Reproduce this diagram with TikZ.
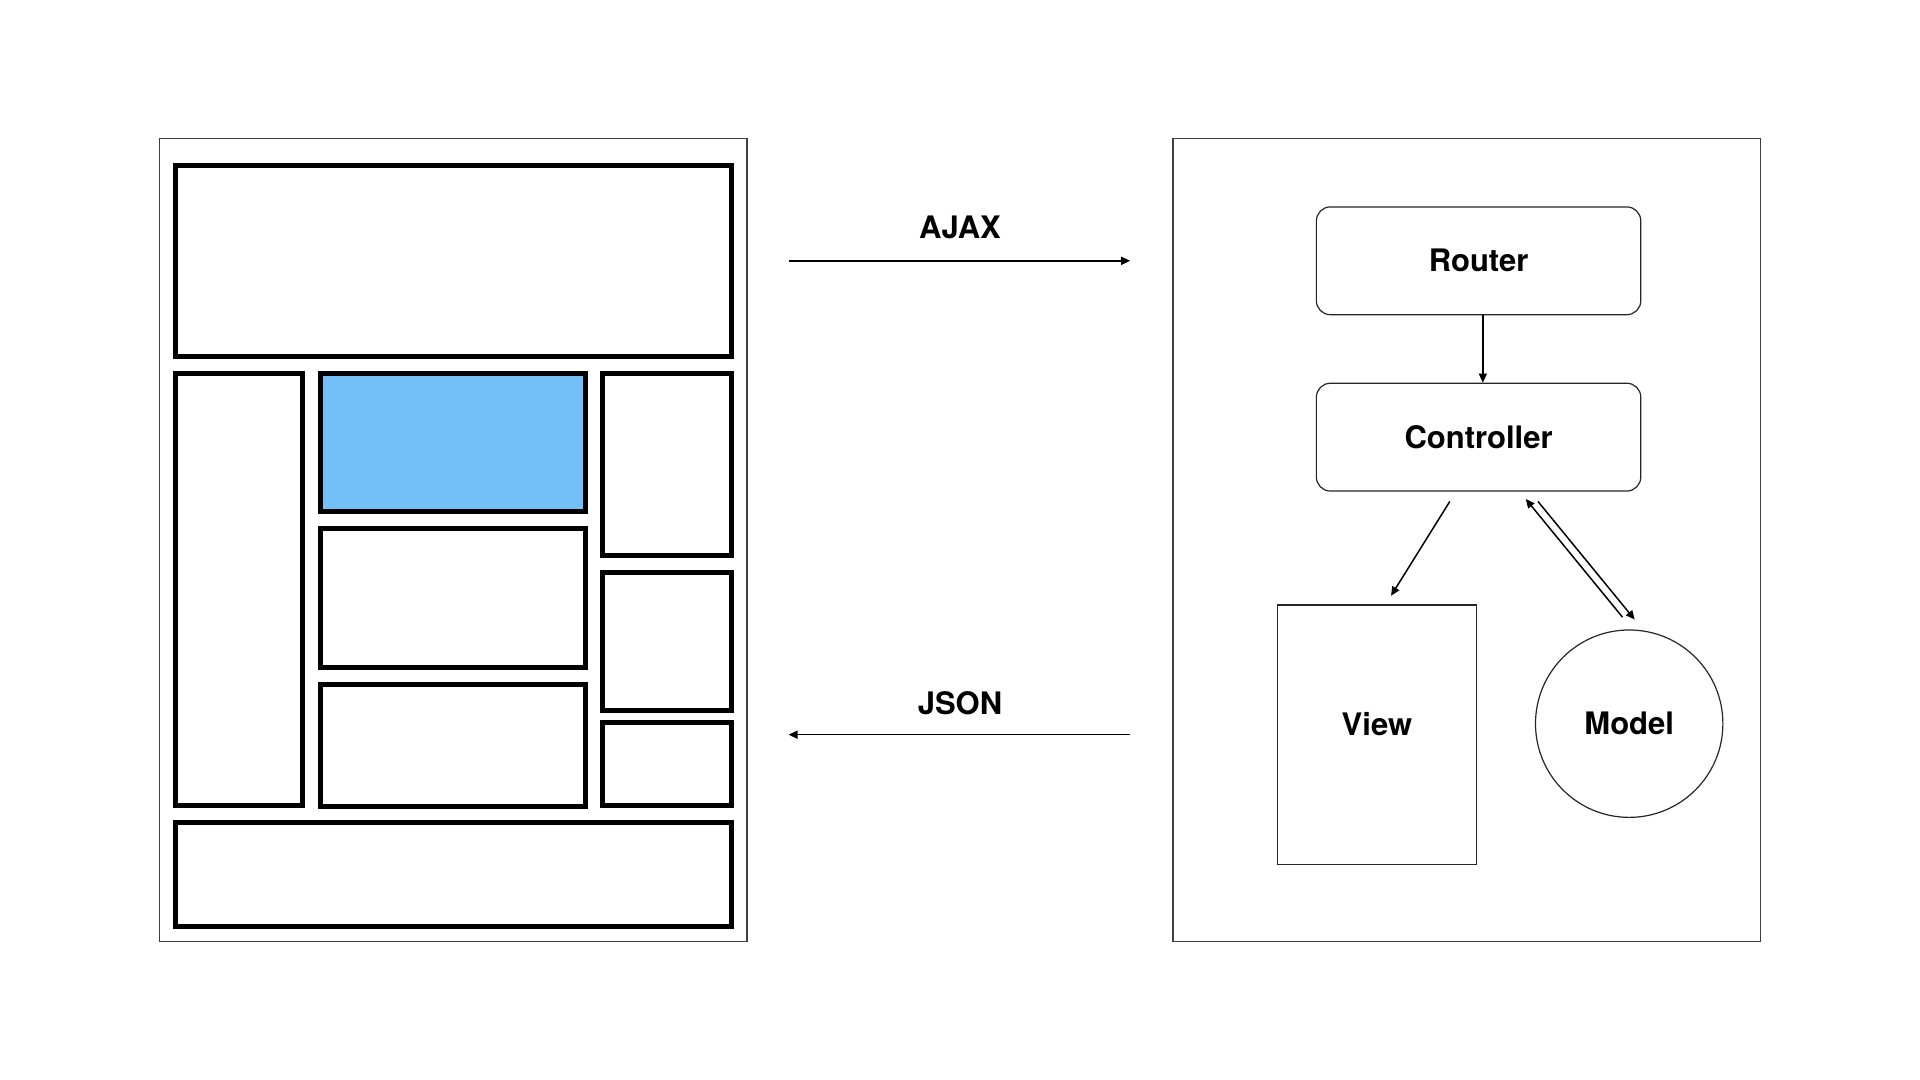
\documentclass[tikz,border=0pt]{standalone}
\usepackage{fontspec}
\setmainfont{TeX Gyre Heros}
\usetikzlibrary{arrows.meta,calc}
\definecolor{hilite}{RGB}{115,191,248}
\tikzset{
  frame/.style={draw=black!75,line width=0.6pt},
  thickbox/.style={draw=black,line width=2.5pt},
  rbox/.style={draw=black!85,line width=0.6pt,rounded corners=7pt,minimum width=162.2pt,minimum height=53.9pt,inner sep=0pt},
  viewbox/.style={draw=black!85,line width=0.6pt,minimum width=99.8pt,minimum height=129.8pt,inner sep=0pt},
  modelbox/.style={draw=black!85,line width=0.6pt,circle,minimum size=93.7pt,inner sep=0pt},
  lbl/.style={font=\bfseries\fontsize{15.5}{18}\selectfont,inner sep=0pt},
  arr/.style={line width=0.75pt,-{Triangle[length=4.5pt,width=4pt]}}
}
\begin{document}
\begin{tikzpicture}[x=0.61224pt,y=-0.61224pt]
\useasboundingbox[fill=white] (0,0) rectangle (1568,882);
% left page frame
\draw[frame] (130,113) rectangle (610,769);
\draw[thickbox] (143.5,134.8) rectangle (597,291.5);
\draw[thickbox] (143.5,305.2) rectangle (247.4,658.2);
\draw[thickbox,fill=hilite] (261.5,305.2) rectangle (478,418.1);
\draw[thickbox] (261.5,432) rectangle (478,545.3);
\draw[thickbox] (261.5,558.9) rectangle (478,659);
\draw[thickbox] (492,305.2) rectangle (597,454);
\draw[thickbox] (492,467.4) rectangle (597,580.6);
\draw[thickbox] (492,590.2) rectangle (597,658.2);
\draw[thickbox] (143.5,672.1) rectangle (597,757);
% right server frame
\draw[frame] (958,113) rectangle (1438,769);
\node[rbox,lbl] (router) at (1207.5,213) {Router};
\node[rbox,lbl] (controller) at (1207.5,357) {Controller};
\node[viewbox] (view) at (1124.5,600) {};
\node[lbl] (viewlabel) at (1124.5,591) {View};
\node[modelbox,lbl] (model) at (1330.5,591) {Model};
% connectors
\draw[arr] ($(router.south)+(3.5,0)$) -- ($(controller.north)+(3.5,0)$);
\draw[arr] ($(controller.south)+(-23.5,8)$) -- ($(view.north)+(11.5,-7)$);
\draw[arr] ($(model.north)+(-5.5,-10)$) -- ($(controller.south)+(38.5,6)$);
\draw[arr] ($(controller.south)+(48.5,8)$) -- ($(model.north)+(4.5,-8)$);
% AJAX / JSON
\coordinate (ajaxL) at (644,213);
\coordinate (ajaxR) at (923,213);
\coordinate (jsonR) at (923,600);
\coordinate (jsonL) at (644,600);
\draw[arr] (ajaxL) -- (ajaxR);
\draw[arr] (jsonR) -- (jsonL);
\node[lbl] (ajax) at (784,186) {AJAX};
\node[lbl] (json) at (784,574) {JSON};
\end{tikzpicture}
\end{document}
